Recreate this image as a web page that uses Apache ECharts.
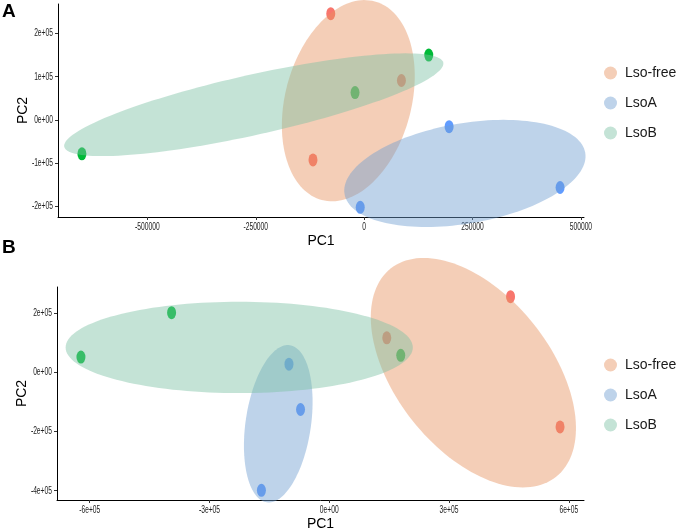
<!DOCTYPE html>
<html><head><meta charset="utf-8">
<script src="https://cdn.jsdelivr.net/npm/echarts@6/dist/echarts.min.js"></script>
<style>html,body{margin:0;padding:0;background:#fff}#c{width:677px;height:531px}</style>
</head><body><div id="c"></div>
<script>
const groups = ['Lso-free', 'LsoA', 'LsoB'];

// Panel A – sample scores
const aFreePC1 = [-77000, 86000, -118000];
const aFreePC2 = [246000, 91000, -93000];
const aLsoAPC1 = [196000, 452000, -9000];
const aLsoAPC2 = [-16000, -157000, -203000];
const aLsoBPC1 = [149000, -21000, -651000];
const aLsoBPC2 = [150000, 63000, -79000];

// Panel B – sample scores
const bFreePC1 = [454000, 578000, 144000];
const bFreePC2 = [255000, -185000, 116000];
const bLsoAPC1 = [-101000, -72000, -170000];
const bLsoAPC2 = [27000, -126000, -399000];
const bLsoBPC1 = [179000, -395000, -622000];
const bLsoBPC2 = [57000, 201000, 51000];

// Confidence ellipses (order: Lso-free, LsoA, LsoB), data units
const ellACenterPC1 = [-36500, 232400, -254600];
const ellACenterPC2 = [44200, -124400, 34900];
const ellAMajorPC1 = [61200, 277600, 437100];
const ellAMajorPC2 = [230200, 47900, 97700];
const ellAMinorPC1 = [140500, 19400, 15000];
const ellAMinorPC2 = [-37900, -114600, -68100];

const ellBCenterPC1 = [360900, -127800, -225600];
const ellBCenterPC2 = [-1700, -174300, 83600];
const ellBMajorPC1 = [207300, 28800, 434800];
const ellBMajorPC2 = [-351600, 265300, 0];
const ellBMinorPC1 = [-151800, 81000, 0];
const ellBMinorPC2 = [-163100, -16000, 154300];

// Ticks
const xTicksA = [-500000, -250000, 0, 250000, 500000];
const xTickLabelsA = ['-500000', '-250000', '0', '250000', '500000'];
const yTicksA = [-200000, -100000, 0, 100000, 200000];
const yTickLabelsA = ['-2e+05', '-1e+05', '0e+00', '1e+05', '2e+05'];
const xTicksB = [-600000, -300000, 0, 300000, 600000];
const xTickLabelsB = ['-6e+05', '-3e+05', '0e+00', '3e+05', '6e+05'];
const yTicksB = [-400000, -200000, 0, 200000];
const yTickLabelsB = ['-4e+05', '-2e+05', '0e+00', '2e+05'];

const pointColors = ['#F8766D', '#619CFF', '#00BA38'];
const fillColors = ['rgba(231,146,95,0.45)', 'rgba(111,157,208,0.45)', 'rgba(124,193,164,0.45)'];
const legendColors = ['#F4CEB7', '#BED3EA', '#C4E3D6'];

const mainFont = "'Liberation Sans', Arial, Helvetica, sans-serif";

function expandRange(arrs) {
  const all = [].concat(...arrs);
  const mn = Math.min(...all), mx = Math.max(...all);
  const pad = (mx - mn) * 0.05;
  return [mn - pad, mx + pad];
}
function zip(xs, ys) { return xs.map((x, i) => [x, ys[i]]); }

const ptsA = [zip(aFreePC1, aFreePC2), zip(aLsoAPC1, aLsoAPC2), zip(aLsoBPC1, aLsoBPC2)];
const ptsB = [zip(bFreePC1, bFreePC2), zip(bLsoAPC1, bLsoAPC2), zip(bLsoBPC1, bLsoBPC2)];
const xRangeA = expandRange([aFreePC1, aLsoAPC1, aLsoBPC1]);
const yRangeA = expandRange([aFreePC2, aLsoAPC2, aLsoBPC2]);
const xRangeB = expandRange([bFreePC1, bLsoAPC1, bLsoBPC1]);
const yRangeB = expandRange([bFreePC2, bLsoAPC2, bLsoBPC2]);

function xAxisDef(idx, range, ticks) {
  return {
    type: 'value', gridIndex: idx, min: range[0], max: range[1],
    name: 'PC1', nameLocation: 'middle', nameGap: 17, nameMoveOverlap: false,
    nameTextStyle: { fontFamily: mainFont, fontSize: 14, color: '#000' },
    splitLine: { show: false },
    axisLine: { onZero: false, lineStyle: { color: '#000', width: 1 } },
    axisTick: { customValues: ticks, length: 3, lineStyle: { color: '#333' } },
    axisLabel: { show: false }
  };
}
function yAxisDef(idx, range, ticks) {
  return {
    type: 'value', gridIndex: idx, min: range[0], max: range[1],
    name: 'PC2', nameLocation: 'middle', nameGap: 28, nameMoveOverlap: false,
    nameTextStyle: { fontFamily: mainFont, fontSize: 14, color: '#000' },
    splitLine: { show: false },
    axisLine: { onZero: false, lineStyle: { color: '#000', width: 1 } },
    axisTick: { customValues: ticks, length: 3, lineStyle: { color: '#333' } },
    axisLabel: { show: false }
  };
}

function renderEllipse(params, api) {
  const cx = api.value(0), cy = api.value(1), ux = api.value(2), uy = api.value(3), vx = api.value(4), vy = api.value(5);
  const pts = [];
  for (let i = 0; i < 144; i++) {
    const t = i / 144 * 2 * Math.PI;
    pts.push(api.coord([cx + ux * Math.cos(t) + vx * Math.sin(t), cy + uy * Math.cos(t) + vy * Math.sin(t)]));
  }
  return { type: 'polygon', shape: { points: pts }, style: { fill: api.visual('color') } };
}

const series = [];
const panels = [
  { pts: ptsA, c1: ellACenterPC1, c2: ellACenterPC2, m1: ellAMajorPC1, m2: ellAMajorPC2, n1: ellAMinorPC1, n2: ellAMinorPC2 },
  { pts: ptsB, c1: ellBCenterPC1, c2: ellBCenterPC2, m1: ellBMajorPC1, m2: ellBMajorPC2, n1: ellBMinorPC1, n2: ellBMinorPC2 }
];
panels.forEach((p, pi) => {
  groups.forEach((g, gi) => {
    series.push({
      type: 'scatter', name: g, xAxisIndex: pi, yAxisIndex: pi, z: 2, silent: true,
      symbol: 'circle', symbolSize: [9, 13],
      itemStyle: { color: pointColors[gi], opacity: 1 },
      data: p.pts[gi]
    });
  });
  groups.forEach((g, gi) => {
    series.push({
      type: 'custom', name: g, xAxisIndex: pi, yAxisIndex: pi, z: 3 + gi, silent: true, clip: false,
      itemStyle: { color: fillColors[gi] },
      renderItem: renderEllipse,
      encode: { x: 0, y: 1 },
      data: [[p.c1[gi], p.c2[gi], p.m1[gi], p.m2[gi], p.n1[gi], p.n2[gi]]]
    });
  });
});

function legendDef(top) {
  return {
    orient: 'vertical', left: 604, top: top, padding: 0, itemGap: 16,
    itemWidth: 13, itemHeight: 13, icon: 'circle', selectedMode: false,
    textStyle: { fontFamily: mainFont, fontSize: 14, color: '#1a1a1a', lineHeight: 13, padding: [0, 0, 0, 3] },
    data: groups.map((g, gi) => ({ name: g, itemStyle: { color: legendColors[gi] } }))
  };
}

const chart = echarts.init(document.getElementById('c'), null, { renderer: 'canvas' });
chart.setOption({
  animation: false,
  backgroundColor: '#fff',
  grid: [
    { left: 58, top: 4, width: 526, height: 213, containLabel: false, outerBoundsMode: 'none' },
    { left: 57, top: 287, width: 527, height: 213, containLabel: false, outerBoundsMode: 'none' }
  ],
  xAxis: [xAxisDef(0, xRangeA, xTicksA), xAxisDef(1, xRangeB, xTicksB)],
  yAxis: [yAxisDef(0, yRangeA, yTicksA), yAxisDef(1, yRangeB, yTicksB)],
  legend: [legendDef(66), legendDef(358)],
  series: series
});

// Condensed tick labels, placed through the axes' own scales
const tickFont = "10.5px 'Liberation Sans', Arial, sans-serif";
const squeeze = 0.64;
const graphics = [
  { type: 'text', left: 2, top: 2, style: { text: 'A', fontFamily: mainFont, fontWeight: 'bold', fontSize: 19, fill: '#000' } },
  { type: 'text', left: 2, top: 238, style: { text: 'B', fontFamily: mainFont, fontWeight: 'bold', fontSize: 19, fill: '#000' } }
];
function addAxisLabels(ai, xr, yr, xt, xl, yt, yl) {
  const axisY = chart.convertToPixel({ yAxisIndex: ai }, yr[0]);
  const axisX = chart.convertToPixel({ xAxisIndex: ai }, xr[0]);
  xt.forEach((v, i) => {
    graphics.push({
      type: 'text', x: chart.convertToPixel({ xAxisIndex: ai }, v), y: axisY + 10, scaleX: squeeze, silent: true,
      style: { text: xl[i], x: 0, y: 0, font: tickFont, fill: '#222', align: 'center', verticalAlign: 'middle', textAlign: 'center', textVerticalAlign: 'middle' }
    });
  });
  yt.forEach((v, i) => {
    graphics.push({
      type: 'text', x: axisX - 5, y: chart.convertToPixel({ yAxisIndex: ai }, v), scaleX: squeeze, silent: true,
      style: { text: yl[i], x: 0, y: 0, font: tickFont, fill: '#222', align: 'right', verticalAlign: 'middle', textAlign: 'right', textVerticalAlign: 'middle' }
    });
  });
}
addAxisLabels(0, xRangeA, yRangeA, xTicksA, xTickLabelsA, yTicksA, yTickLabelsA);
addAxisLabels(1, xRangeB, yRangeB, xTicksB, xTickLabelsB, yTicksB, yTickLabelsB);
chart.setOption({ graphic: graphics });
</script>
</body></html>
